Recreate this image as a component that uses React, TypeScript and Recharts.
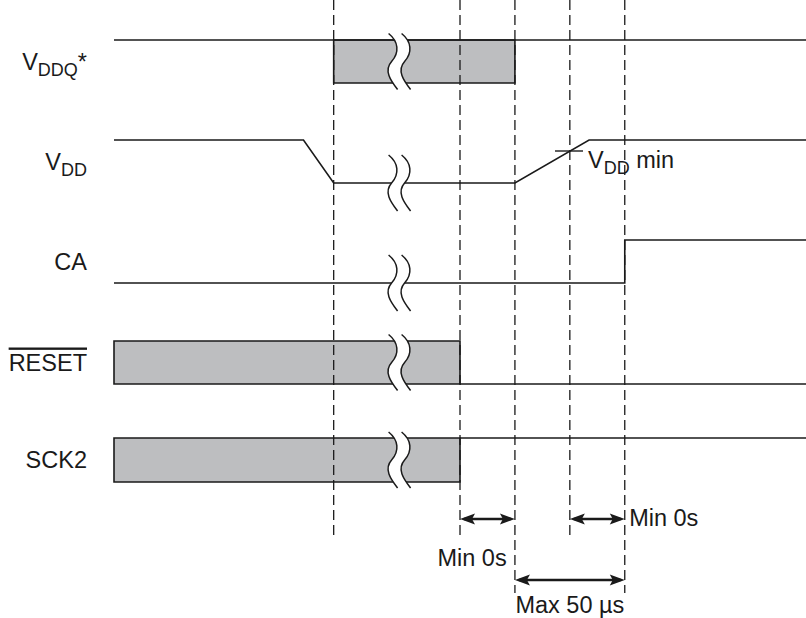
import React from 'react';
import { ComposedChart, Line, XAxis, YAxis, ReferenceArea, ReferenceLine, ReferenceDot } from 'recharts';

const FONT = '"Liberation Sans", Arial, Helvetica, sans-serif';
const INK = '#1a1a1a';

// signal names (left axis)
const signalNames = ['VDDQ*', 'VDD', 'CA', 'RESET', 'SCK2'];

// event times on the x axis (arbitrary units)
const tEnd = 126;
const tVddFall = 34.5;
const tOff = 40;
const tBreak = 52;
const tReset = 63;
const tRamp = 73;
const tVddMin = 83;
const tVddUp = 86.5;
const tCa = 93;

// high / low level of each row (y units, top = 0)
const rowHigh = [0.4, 1.4, 2.4, 3.41, 4.38];
const rowLow = [0.83, 1.83, 2.83, 3.84, 4.82];
const rowMid = rowHigh.map((h, i) => (h + rowLow[i]) / 2);

// waveforms: times and levels (1 = high, 0 = low)
const vddqT = [0, tEnd];
const vddqLevel = [1, 1];
const vddT = [0, tVddFall, tOff, tRamp, tVddUp, tEnd];
const vddLevel = [1, 1, 0, 0, 1, 1];
const caT = [0, tCa, tCa, tEnd];
const caLevel = [0, 0, 1, 1];
const resetT = [tReset, tEnd];
const resetLevel = [0, 0];
const sckT = [tReset, tEnd];
const sckLevel = [1, 1];

// "don't care" boxes: row, start, end
const boxRows = [0, 3, 4];
const boxFrom = [tOff, 0, 0];
const boxTo = [tRamp, tReset, tReset];

// dashed guides: time and bottom end
const guideT = [tOff, tReset, tRamp, tVddMin, tCa];
const guideEnd = [5.4, 5.4, 5.93, 5.4, 5.93];

// timing arrows
const arrowFrom = [tReset, tVddMin, tRamp];
const arrowTo = [tRamp, tCa, tCa];
const arrowY = [5.19, 5.19, 5.8];

// break marks: vertical centre on each row
const breakY = [rowMid[0], rowLow[1], rowLow[2], rowMid[3], rowMid[4]];

type Run = { text: string; sub?: boolean; over?: boolean };

const nameRuns: Run[][] = [
  [{ text: 'V' }, { text: 'DDQ', sub: true }, { text: '*' }],
  [{ text: 'V' }, { text: 'DD', sub: true }],
  [{ text: 'CA' }],
  [{ text: 'RESET', over: true }],
  [{ text: 'SCK2' }],
];

// annotation texts
const noteT = [65.2, 100.1, 83, 86.3];
const noteY = [5.58, 5.18, 6.05, 1.6];
const noteAnchor = ['middle', 'middle', 'middle', 'start'];
const noteRuns: Run[][] = [
  [{ text: 'Min 0s' }],
  [{ text: 'Min 0s' }],
  [{ text: 'Max 50 \u00b5s' }],
  [{ text: 'V' }, { text: 'DD', sub: true }, { text: ' min' }],
];

const wave = (row: number, ts: number[], lv: number[]) =>
  ts.map((t, i) => ({ t, y: lv[i] ? rowHigh[row] : rowLow[row] }));

const waves = [
  wave(0, vddqT, vddqLevel),
  wave(1, vddT, vddLevel),
  wave(2, caT, caLevel),
  wave(3, resetT, resetLevel),
  wave(4, sckT, sckLevel),
];

function RichText({ x, y, anchor, runs }: { x: number; y: number; anchor: string; runs: Run[] }) {
  return (
    <text x={x} y={y + 8} textAnchor={anchor as any} fontSize={23.5} fontFamily={FONT} fill={INK}>
      {runs.map((r, i) => {
        const prevSub = i > 0 && runs[i - 1].sub;
        const dy = r.sub ? 6 : prevSub ? -6 : 0;
        return (
          <tspan
            key={i}
            dy={dy}
            fontSize={r.sub ? 18 : 23.5}
            style={r.over ? { textDecoration: 'overline' } : undefined}
          >
            {r.text}
          </tspan>
        );
      })}
    </text>
  );
}

function SignalTick(props: any) {
  const { x, y, index } = props;
  return <RichText x={x} y={y} anchor="end" runs={nameRuns[index]} />;
}

function NoteLabel(props: any) {
  const { viewBox, runs, anchor } = props;
  const cx = viewBox.x + viewBox.width / 2;
  const cy = viewBox.y + viewBox.height / 2;
  return <RichText x={cx} y={cy} anchor={anchor} runs={runs} />;
}

function BreakMark(props: any) {
  const { cx, cy } = props;
  const left = 'M -11,-28 C -1,-20 0,-9 -8,0 C -16,9 -9,19 -2,28';
  const right = 'M 2,-28 C 12,-20 13,-9 5,0 C -3,9 4,19 11,28';
  const fill =
    'M -11,-28 C -1,-20 0,-9 -8,0 C -16,9 -9,19 -2,28 L 11,28 C 4,19 -3,9 5,0 C 13,-9 12,-20 2,-28 Z';
  return (
    <g transform={`translate(${cx},${cy})`}>
      <path d={fill} fill="#fff" stroke="none" />
      <path d={left} fill="none" stroke={INK} strokeWidth={1.5} />
      <path d={right} fill="none" stroke={INK} strokeWidth={1.5} />
    </g>
  );
}

function DoubleArrow(props: any) {
  const { x1, y1, x2 } = props;
  const a = Math.min(x1, x2);
  const b = Math.max(x1, x2);
  const hl = 15;
  const hw = 5.5;
  return (
    <g>
      <line x1={a + 4} y1={y1} x2={b - 4} y2={y1} stroke={INK} strokeWidth={2.4} />
      <polygon points={`${a},${y1} ${a + hl},${y1 - hw} ${a + hl - 3},${y1} ${a + hl},${y1 + hw}`} fill={INK} />
      <polygon points={`${b},${y1} ${b - hl},${y1 - hw} ${b - hl + 3},${y1} ${b - hl},${y1 + hw}`} fill={INK} />
    </g>
  );
}

export default function App() {
  return (
    <div style={{ position: 'absolute', left: 0, top: 0, width: 806, height: 618, background: '#fff' }}>
      <ComposedChart width={806} height={618} margin={{ top: 0, right: 0, bottom: 0, left: 0 }}>
        <XAxis type="number" dataKey="t" domain={[0, tEnd]} hide allowDataOverflow />
        <YAxis
          type="number"
          domain={[0, 6.18]}
          reversed
          allowDataOverflow
          width={114}
          ticks={rowMid}
          interval={0}
          axisLine={false}
          tickLine={false}
          tickSize={0}
          tickMargin={27}
          tick={<SignalTick />}
        />

        {boxRows.map((row, i) => (
          <ReferenceArea
            key={`box-${i}`}
            x1={boxFrom[i]}
            x2={boxTo[i]}
            y1={rowHigh[row]}
            y2={rowLow[row]}
            fill="#bdbec0"
            fillOpacity={1}
            stroke={INK}
            strokeWidth={1.6}
            ifOverflow="visible"
          />
        ))}

        {waves.map((w, i) => (
          <Line
            key={`wave-${i}`}
            data={w}
            dataKey="y"
            type="linear"
            stroke={INK}
            strokeWidth={1.6}
            dot={false}
            activeDot={false}
            isAnimationActive={false}
          />
        ))}

        {guideT.map((t, i) => (
          <ReferenceLine
            key={`guide-${i}`}
            segment={[{ x: t, y: 0 }, { x: t, y: guideEnd[i] }]}
            stroke={INK}
            strokeWidth={1.3}
            strokeDasharray="10 5"
            ifOverflow="visible"
          />
        ))}

        <ReferenceLine
          segment={[{ x: 80.3, y: 1.51 }, { x: 85.4, y: 1.51 }]}
          stroke={INK}
          strokeWidth={1.4}
          ifOverflow="visible"
        />

        {arrowFrom.map((t, i) => (
          <ReferenceLine
            key={`arrow-${i}`}
            segment={[{ x: t, y: arrowY[i] }, { x: arrowTo[i], y: arrowY[i] }]}
            shape={DoubleArrow}
            ifOverflow="visible"
          />
        ))}

        {breakY.map((y, i) => (
          <ReferenceDot key={`break-${i}`} x={tBreak} y={y} r={1} shape={BreakMark} ifOverflow="visible" />
        ))}

        {noteT.map((t, i) => (
          <ReferenceDot
            key={`note-${i}`}
            x={t}
            y={noteY[i]}
            r={0}
            fill="none"
            stroke="none"
            ifOverflow="visible"
            label={<NoteLabel runs={noteRuns[i]} anchor={noteAnchor[i]} />}
          />
        ))}
      </ComposedChart>
    </div>
  );
}
